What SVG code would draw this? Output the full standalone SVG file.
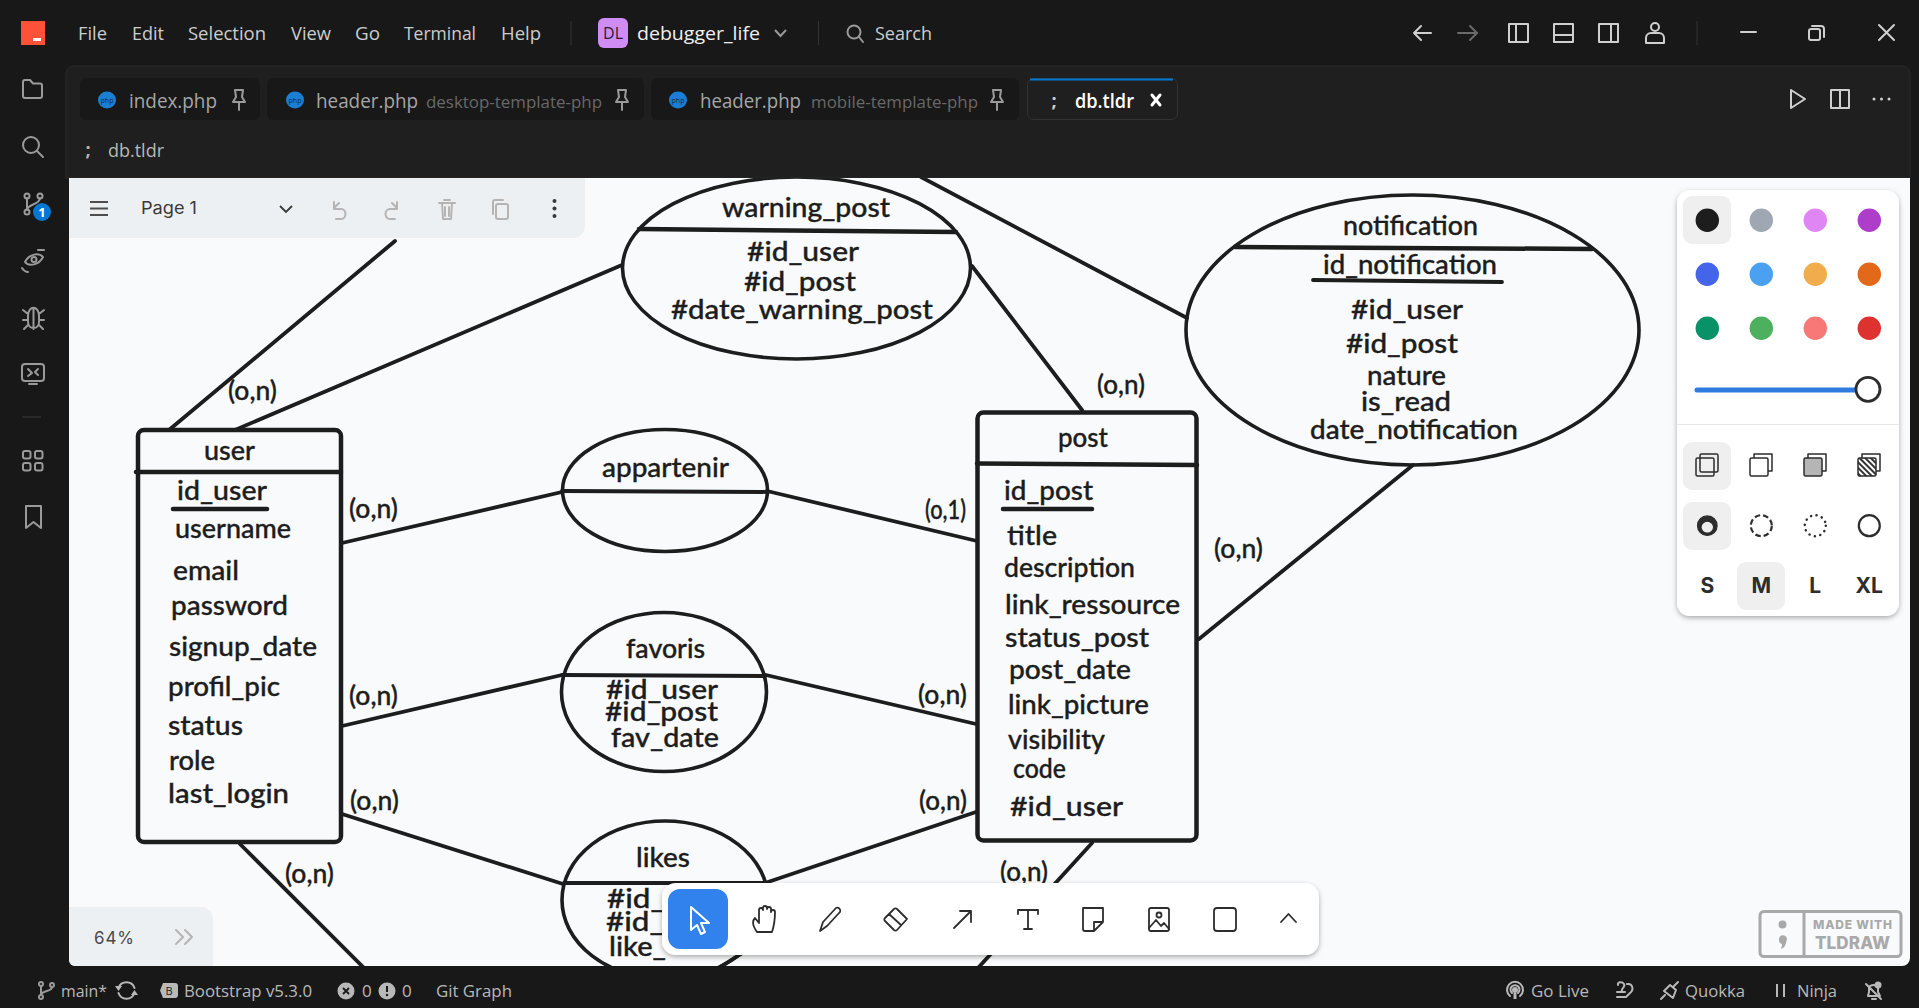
<svg xmlns="http://www.w3.org/2000/svg" xmlns:xlink="http://www.w3.org/1999/xlink" width="1919" height="1008" viewBox="0 0 1919 1008">
<style>
.h,.c{font-family:"Lato","Noto Sans",sans-serif;font-size:26px;font-weight:500;fill:#1d1d1d;stroke:#1d1d1d;stroke-width:.35;transform:translateY(2px)}
.sh{fill:none;stroke:#1d1d1d;stroke-width:4.5;stroke-linecap:round}
.ell{fill:none;stroke:#1d1d1d;stroke-width:3.6}
.cn{fill:none;stroke:#1d1d1d;stroke-width:3.8;stroke-linecap:round}
.ui{font-family:"Open Sans","Noto Sans",sans-serif;font-size:18px;fill:#cccccc}
.tab{font-family:"Open Sans","Noto Sans",sans-serif;font-size:20px;fill:#a6a6a6}
.sub{font-family:"Open Sans","Noto Sans",sans-serif;font-size:17px;fill:#686868}
.st{font-family:"Open Sans","Noto Sans",sans-serif;font-size:17px;fill:#b8b8b8}
.ic{fill:none;stroke:#9a9a9a;stroke-width:2;stroke-linecap:round;stroke-linejoin:round}
.top{fill:none;stroke:#cfcfcf;stroke-width:2;stroke-linejoin:round;stroke-linecap:round}
.tl{fill:none;stroke:#2d2d2d;stroke-width:1.8;stroke-linecap:round;stroke-linejoin:round}
.mg{fill:none;stroke:#b4b4b4;stroke-width:2;stroke-linecap:round;stroke-linejoin:round}
.sz{font-family:"Inter","Liberation Sans",sans-serif;font-size:21px;font-weight:700;fill:#2d2d2d;text-anchor:middle}
.sel{fill:#efefef}
</style>
<defs>
<clipPath id="cv"><path d="M69 178H1910V958a8 8 0 0 1-8 8H75a6 6 0 0 1-6-6Z"/></clipPath>
<filter id="shd" x="-10%" y="-10%" width="120%" height="125%"><feDropShadow dx="0" dy="2" stdDeviation="2.5" flood-color="#000" flood-opacity=".32"/></filter>
<pattern id="hatch" width="4" height="4" patternUnits="userSpaceOnUse" patternTransform="rotate(45)"><rect width="4" height="4" fill="#fff"/><rect width="4" height="2" fill="#333"/></pattern>
<g id="php"><ellipse cx="0" cy="0" rx="9" ry="8.5" fill="#1a7fd4"/><text x="0" y="2.500" font-family="Open Sans,sans-serif" font-size="7" fill="#0d2a46" text-anchor="middle">php</text></g>
<path id="pin" class="ic" d="M-4-9H4L3-2L6 3H-6L-3-2ZM0 3V11"/>
</defs>

<rect id="window" width="1919" height="1008" fill="#181818"/>
<path d="M66 74a8 8 0 0 1 8-8H1902a8 8 0 0 1 8 8V178H66Z" fill="#1f1f1f" stroke="#2a2a2a"/>
<path d="M69 178H1910V958a8 8 0 0 1-8 8H75a6 6 0 0 1-6-6Z" fill="#f9fafb"/>

<g id="titlebar">
<rect x="21" y="21" width="24" height="24" fill="#ff5138"/><rect x="33" y="38" width="8" height="3" fill="#fff"/>
<text class="ui" x="78" y="40" textLength="29" lengthAdjust="spacingAndGlyphs">File</text>
<text class="ui" x="132" y="40" textLength="32" lengthAdjust="spacingAndGlyphs">Edit</text>
<text class="ui" x="188" y="40" textLength="78" lengthAdjust="spacingAndGlyphs">Selection</text>
<text class="ui" x="291" y="40" textLength="40" lengthAdjust="spacingAndGlyphs">View</text>
<text class="ui" x="355" y="40" textLength="25" lengthAdjust="spacingAndGlyphs">Go</text>
<text class="ui" x="404" y="40" textLength="72" lengthAdjust="spacingAndGlyphs">Terminal</text>
<text class="ui" x="501" y="40" textLength="40" lengthAdjust="spacingAndGlyphs">Help</text>
<path d="M571 21V45M818.500 21V45" stroke="#333" fill="none"/>
<rect x="598" y="18" width="30" height="30" rx="6" fill="#d08cf5"/>
<text x="613" y="39" font-family="Open Sans,sans-serif" font-size="16" fill="#2a1a33" text-anchor="middle">DL</text>
<text class="ui" x="637" y="40" style="font-size:19px;fill:#f0f0f0" textLength="123" lengthAdjust="spacingAndGlyphs">debugger_life</text>
<path d="M775 30L780.500 36L786 30" fill="none" stroke="#9a9a9a" stroke-width="2"/>
<circle cx="854" cy="32" r="6.500" class="ic"/><path d="M859 37L863 42" class="ic"/>
<text class="ui" x="875" y="40" textLength="57" lengthAdjust="spacingAndGlyphs">Search</text>
<path class="top" d="M1431 33H1414M1421 26L1414 33L1421 40"/>
<path d="M1458 33H1476M1470 26L1477 33L1470 40" fill="none" stroke="#6a6a6a" stroke-width="2" stroke-linecap="round"/>
<rect class="top" x="1509" y="24" width="19" height="18"/><path class="top" d="M1516 24V42"/>
<rect class="top" x="1554" y="24" width="19" height="18"/><path class="top" d="M1554 35H1573"/>
<rect class="top" x="1599" y="24" width="19" height="18"/><path class="top" d="M1611 24V42"/>
<circle class="top" cx="1655" cy="27" r="4"/><path class="top" d="M1646 43V38a5 5 0 0 1 5-5H1659a5 5 0 0 1 5 5V43Z"/>
<path d="M1697 21V45" stroke="#333"/>
<path class="top" d="M1741 32H1756"/>
<rect class="top" x="1809" y="29" width="11" height="11" rx="2"/><path class="top" d="M1812 26H1821a3 3 0 0 1 3 3V37"/>
<path class="top" d="M1879 25L1894 40M1894 25L1879 40"/>
</g>

<g id="tabs">
<rect x="80" y="78" width="180" height="42" rx="6" fill="#181818"/>
<rect x="267" y="78" width="377" height="42" rx="6" fill="#181818"/>
<rect x="651" y="78" width="368" height="42" rx="6" fill="#181818"/>
<rect x="1027.500" y="78.500" width="150" height="41" rx="6" fill="#1f1f1f" stroke="#333"/>
<path d="M1030 79.500H1173" stroke="#0078d4" stroke-width="2"/>
<use xlink:href="#php" href="#php" x="107" y="100"/>
<text class="tab" x="129" y="108" textLength="88" lengthAdjust="spacingAndGlyphs">index.php</text>
<use href="#pin" xlink:href="#pin" x="239" y="99"/>
<use href="#php" xlink:href="#php" x="295" y="100"/>
<text class="tab" x="316" y="108" textLength="102" lengthAdjust="spacingAndGlyphs">header.php</text>
<text class="sub" x="426" y="108" textLength="176" lengthAdjust="spacingAndGlyphs">desktop-template-php</text>
<use href="#pin" xlink:href="#pin" x="622" y="99"/>
<use href="#php" xlink:href="#php" x="678" y="100"/>
<text class="tab" x="700" y="108" textLength="101" lengthAdjust="spacingAndGlyphs">header.php</text>
<text class="sub" x="811" y="108" textLength="167" lengthAdjust="spacingAndGlyphs">mobile-template-php</text>
<use href="#pin" xlink:href="#pin" x="997" y="99"/>
<text x="1054" y="107" font-family="Open Sans,sans-serif" font-size="18" font-weight="700" fill="#cfcfcf" text-anchor="middle">;</text>
<text class="tab" x="1075" y="108" style="fill:#fff;font-weight:600" textLength="59" lengthAdjust="spacingAndGlyphs">db.tldr</text>
<path d="M1152 95L1160 105M1160 95L1152 105" stroke="#fff" stroke-width="3" stroke-linecap="round"/>
<path class="top" d="M1791 90L1805 99L1791 108Z"/>
<rect class="top" x="1831" y="90" width="18" height="18"/><path class="top" d="M1840 90V108"/>
<circle cx="1874" cy="99" r="1.500" fill="#cfcfcf"/><circle cx="1881.500" cy="99" r="1.500" fill="#cfcfcf"/><circle cx="1889" cy="99" r="1.500" fill="#cfcfcf"/>
<text x="88" y="156" font-family="Open Sans,sans-serif" font-size="18" font-weight="700" fill="#b5b5b5" text-anchor="middle">;</text>
<text class="st" x="108" y="157" style="font-size:18px" textLength="56" lengthAdjust="spacingAndGlyphs">db.tldr</text>
</g>

<g id="activity">
<path class="ic" d="M23 82a2 2 0 0 1 2-2H30L33 83.500H40a2 2 0 0 1 2 2V96a2 2 0 0 1-2 2H25a2 2 0 0 1-2-2Z"/>
<circle class="ic" cx="31" cy="145" r="8"/><path class="ic" d="M37 151L43 157"/>
<circle cx="27" cy="196" r="2.500" class="ic"/><circle cx="40" cy="196" r="2.500" class="ic"/><circle cx="27" cy="212" r="2.500" class="ic"/>
<path class="ic" d="M27 198V210M40 198C40 205 27 204 27 210"/>
<circle cx="42" cy="212" r="9" fill="#0078d4"/><text x="42" y="217" font-family="Open Sans,sans-serif" font-size="13" font-weight="700" fill="#fff" text-anchor="middle">1</text>
<path class="ic" d="M25 262C29 254 39 252 43 257C39 265 29 267 25 262Z"/><circle class="ic" cx="34" cy="259.500" r="2.500"/><path class="ic" d="M22 268C24 271 26 272 28 272M44 250C42 250 40 250 38 250"/>
<path class="ic" d="M28 316C28 305 39 305 39 316V322C39 330 28 330 28 322ZM33.500 309V329M28 314L23 310M39 314L44 310M28 320H23M39 320H44M28 325L24 329M39 325L43 329"/>
<rect class="ic" x="22" y="364" width="22" height="17" rx="3"/><path class="ic" d="M29 384H37M28 369L32 373L28 376M38 369L35 372L38 375"/>
<path d="M22 417H41" stroke="#3a3a3a"/>
<rect class="ic" x="23" y="451" width="7.500" height="7.500" rx="2"/><rect class="ic" x="35" y="451" width="7.500" height="7.500" rx="2"/><rect class="ic" x="23" y="463" width="7.500" height="7.500" rx="2"/><rect class="ic" x="35" y="463" width="7.500" height="7.500" rx="2"/>
<path class="ic" d="M26 506H41V528L33.500 522L26 528Z"/>
</g>

<g clip-path="url(#cv)">
<g id="connectors">
<path class="cn" d="M169 430L395 241"/>
<path class="cn" d="M235 430L622 265"/>
<path class="cn" d="M342 543L562 492"/>
<path class="cn" d="M342 726L562 675"/>
<path class="cn" d="M342 814L563 884"/>
<path class="cn" d="M240 844L364 968"/>
<path class="cn" d="M972 266L1082 410"/>
<path class="cn" d="M921 177L1187 318"/>
<path class="cn" d="M767 491L977 541"/>
<path class="cn" d="M766 675L976 724"/>
<path class="cn" d="M765 883L976 812"/>
<path class="cn" d="M1199 639L1413 465"/>
<path class="cn" d="M1092 843L978 968"/>
<path class="cn" d="M720 967L760 942"/>
</g>

<g id="user">
<rect class="sh" x="138" y="430" width="203" height="412" rx="6"/>
<path class="sh" d="M136 472H341"/>
<text class="h" x="204" y="458" textLength="51" lengthAdjust="spacingAndGlyphs">user</text>
<text class="h" x="177" y="498" textLength="90" lengthAdjust="spacingAndGlyphs">id_user</text>
<path class="sh" d="M173 509H267"/>
<text class="h" x="175" y="536" textLength="116" lengthAdjust="spacingAndGlyphs">username</text>
<text class="h" x="173" y="578" textLength="66" lengthAdjust="spacingAndGlyphs">email</text>
<text class="h" x="171" y="613" textLength="117" lengthAdjust="spacingAndGlyphs">password</text>
<text class="h" x="169" y="654" textLength="148" lengthAdjust="spacingAndGlyphs">signup_date</text>
<text class="h" x="168" y="694" textLength="112" lengthAdjust="spacingAndGlyphs">profil_pic</text>
<text class="h" x="168" y="733" textLength="75" lengthAdjust="spacingAndGlyphs">status</text>
<text class="h" x="169" y="768" textLength="46" lengthAdjust="spacingAndGlyphs">role</text>
<text class="h" x="168" y="801" textLength="121" lengthAdjust="spacingAndGlyphs">last_login</text>
</g>

<g id="post">
<rect class="sh" x="977.500" y="412.500" width="219" height="428" rx="6"/>
<path class="sh" d="M977 463.500L1197 465"/>
<text class="h" x="1058" y="445" textLength="50" lengthAdjust="spacingAndGlyphs">post</text>
<text class="h" x="1004" y="498" textLength="89" lengthAdjust="spacingAndGlyphs">id_post</text>
<path class="sh" d="M1003 509H1092"/>
<text class="h" x="1007" y="543" textLength="50" lengthAdjust="spacingAndGlyphs">title</text>
<text class="h" x="1004" y="575" textLength="131" lengthAdjust="spacingAndGlyphs">description</text>
<text class="h" x="1005" y="612" textLength="175" lengthAdjust="spacingAndGlyphs">link_ressource</text>
<text class="h" x="1005" y="645" textLength="144" lengthAdjust="spacingAndGlyphs">status_post</text>
<text class="h" x="1009" y="677" textLength="122" lengthAdjust="spacingAndGlyphs">post_date</text>
<text class="h" x="1008" y="712" textLength="141" lengthAdjust="spacingAndGlyphs">link_picture</text>
<text class="h" x="1008" y="747" textLength="97" lengthAdjust="spacingAndGlyphs">visibility</text>
<text class="h" x="1013" y="776" textLength="53" lengthAdjust="spacingAndGlyphs">code</text>
<text class="h" x="1010" y="814" textLength="113" lengthAdjust="spacingAndGlyphs">#id_user</text>
</g>

<g id="warning_post">
<ellipse class="ell" cx="796.500" cy="268" rx="174" ry="91"/>
<path class="sh" d="M639 229L956 232"/>
<text class="h" x="722" y="215" textLength="168" lengthAdjust="spacingAndGlyphs">warning_post</text>
<text class="h" x="747" y="259" textLength="112" lengthAdjust="spacingAndGlyphs">#id_user</text>
<text class="h" x="744" y="289" textLength="112" lengthAdjust="spacingAndGlyphs">#id_post</text>
<text class="h" x="671" y="317" textLength="262" lengthAdjust="spacingAndGlyphs">#date_warning_post</text>
</g>

<g id="appartenir">
<ellipse class="ell" cx="665" cy="490.500" rx="102.500" ry="61"/>
<path class="cn" d="M562 491L768 492"/>
<text class="h" x="602" y="475" textLength="127" lengthAdjust="spacingAndGlyphs">appartenir</text>
</g>

<g id="favoris">
<ellipse class="ell" cx="664" cy="692" rx="102.500" ry="79.500"/>
<path class="cn" d="M562 675L765 676"/>
<text class="h" x="626" y="656" textLength="79" lengthAdjust="spacingAndGlyphs">favoris</text>
<text class="h" x="606" y="697" textLength="112" lengthAdjust="spacingAndGlyphs">#id_user</text>
<text class="h" x="605" y="719" textLength="113" lengthAdjust="spacingAndGlyphs">#id_post</text>
<text class="h" x="611" y="745" textLength="108" lengthAdjust="spacingAndGlyphs">fav_date</text>
</g>

<g id="likes">
<ellipse class="ell" cx="665" cy="900" rx="103" ry="79"/>
<path class="cn" d="M564 883H765"/>
<text class="h" x="636" y="865" textLength="54" lengthAdjust="spacingAndGlyphs">likes</text>
<text class="h" x="607" y="906" textLength="58" lengthAdjust="spacingAndGlyphs">#id_</text>
<text class="h" x="606" y="929" textLength="58" lengthAdjust="spacingAndGlyphs">#id_</text>
<text class="h" x="609" y="954" textLength="57" lengthAdjust="spacingAndGlyphs">like_</text>
</g>

<g id="notification">
<ellipse class="ell" cx="1412.500" cy="330" rx="226.500" ry="135"/>
<path class="sh" d="M1235 247L1592 249"/>
<text class="h" x="1343" y="233" textLength="135" lengthAdjust="spacingAndGlyphs">notification</text>
<text class="h" x="1323" y="272" textLength="174" lengthAdjust="spacingAndGlyphs">id_notification</text>
<path class="cn" d="M1313 280L1502 282"/>
<text class="h" x="1351" y="317" textLength="112" lengthAdjust="spacingAndGlyphs">#id_user</text>
<text class="h" x="1346" y="351" textLength="112" lengthAdjust="spacingAndGlyphs">#id_post</text>
<text class="h" x="1367" y="383" textLength="79" lengthAdjust="spacingAndGlyphs">nature</text>
<text class="h" x="1361" y="409" textLength="90" lengthAdjust="spacingAndGlyphs">is_read</text>
<text class="h" x="1310" y="437" textLength="208" lengthAdjust="spacingAndGlyphs">date_notification</text>
</g>

<g id="cardinalities">
<text class="c" x="228" y="398" textLength="49" lengthAdjust="spacingAndGlyphs">(o,n)</text>
<text class="c" x="349" y="516" textLength="49" lengthAdjust="spacingAndGlyphs">(o,n)</text>
<text class="c" x="349" y="703" textLength="49" lengthAdjust="spacingAndGlyphs">(o,n)</text>
<text class="c" x="350" y="808" textLength="49" lengthAdjust="spacingAndGlyphs">(o,n)</text>
<text class="c" x="285" y="881" textLength="49" lengthAdjust="spacingAndGlyphs">(o,n)</text>
<text class="c" x="1097" y="392" textLength="48" lengthAdjust="spacingAndGlyphs">(o,n)</text>
<text class="c" x="925" y="517" textLength="41" lengthAdjust="spacingAndGlyphs">(o,1)</text>
<text class="c" x="918" y="702" textLength="49" lengthAdjust="spacingAndGlyphs">(o,n)</text>
<text class="c" x="919" y="808" textLength="48" lengthAdjust="spacingAndGlyphs">(o,n)</text>
<text class="c" x="1000" y="879" textLength="48" lengthAdjust="spacingAndGlyphs">(o,n)</text>
<text class="c" x="1214" y="556" textLength="49" lengthAdjust="spacingAndGlyphs">(o,n)</text>
</g>

<g id="page-menu">
<path d="M69 178H585V226a12 12 0 0 1-12 12H69Z" fill="#edf0f2"/>
<path d="M90 202H108M90 208.500H108M90 215H108" fill="none" stroke="#4d4d4d" stroke-width="2"/>
<text x="141" y="214" font-family="Inter,Liberation Sans,sans-serif" font-size="17" fill="#3a3a3a" textLength="56" lengthAdjust="spacingAndGlyphs">Page 1</text>
<path d="M280 206L286 212L292 206" fill="none" stroke="#3a3a3a" stroke-width="1.800"/>
<path class="mg" d="M334 202V209H341C347 209 347 219 341 219H336"/><path class="mg" d="M334 208L339 203"/>
<path class="mg" d="M397 202V209H390C384 209 384 219 390 219H395"/><path class="mg" d="M397 208L392 203"/>
<path class="mg" d="M439 203H455M442 203L443 219H451L452 203M444 200H450M445 207V216M449 207V216"/>
<rect class="mg" x="496" y="204" width="12" height="15" rx="2"/><path class="mg" d="M493 214V202a2 2 0 0 1 2-2H503"/>
<circle cx="554.500" cy="201" r="2" fill="#3a3a3a"/><circle cx="554.500" cy="208.500" r="2" fill="#3a3a3a"/><circle cx="554.500" cy="216" r="2" fill="#3a3a3a"/>
</g>

<g id="zoom-pill">
<path d="M69 907H201a12 12 0 0 1 12 12V966H75a6 6 0 0 1-6-6Z" fill="#edf0f2"/>
<text x="94" y="944" font-family="Inter,Liberation Sans,sans-serif" font-size="17" fill="#4a4a4a" textLength="40" lengthAdjust="spacing">64%</text>
<path class="mg" d="M176 930L183 937L176 944M185 930L192 937L185 944"/>
</g>

<g id="made-with">
<rect x="1760" y="911.500" width="141" height="45" rx="4" fill="none" stroke="#a9a9a9" stroke-width="3"/>
<path d="M1804 911V957" stroke="#a9a9a9" stroke-width="3"/>
<circle cx="1782.500" cy="924.500" r="4" fill="#a9a9a9"/>
<path d="M1779 940a4 4 0 1 1 7.500 1C1786 945 1784 948 1781 949C1782 946 1782 944 1782 944a4 4 0 0 1-3-4Z" fill="#a9a9a9"/>
<text x="1813" y="929" font-family="Inter,Liberation Sans,sans-serif" font-size="12" font-weight="800" fill="#a9a9a9" textLength="79" lengthAdjust="spacing">MADE WITH</text>
<text x="1815" y="949" font-family="Inter,Liberation Sans,sans-serif" font-size="17" font-weight="800" fill="#a9a9a9" textLength="75" lengthAdjust="spacing">TLDRAW</text>
</g>

<g id="toolbar">
<rect x="662" y="883" width="657" height="72" rx="14" fill="#fff" filter="url(#shd)"/>
<rect x="668" y="889" width="60" height="60" rx="12" fill="#3182ed"/>
<path d="M691 907V930L697 925L701 934L705 932L701 923H709Z" fill="#3182ed" stroke="#fff" stroke-width="2" stroke-linejoin="round"/>
<path class="tl" d="M757 932C752 925 752 921 755 918L759 923V910a2 2 0 0 1 4 0V908a2 2 0 0 1 4 0V909a2 2 0 0 1 4 0V912a2 2 0 0 1 4 0C775 920 774 926 772 932Z"/>
<path class="tl" d="M820 931L823 922L836 908a3 3 0 0 1 4 4L827 926Z"/>
<path class="tl" d="M897 909L907 919L897 930a2 2 0 0 1-3 0L885 921a2 2 0 0 1 0-3L894 909a2 2 0 0 1 3 0ZM889 914L901 925"/>
<path class="tl" d="M954 928L971 911M960 911H971V922"/>
<path class="tl" d="M1018 910V914M1018 910H1038V914M1028 910V929M1024 929H1032"/>
<path class="tl" d="M1083 908H1103V922L1094 931H1085a2 2 0 0 1-2-2ZM1094 931V922H1103"/>
<rect class="tl" x="1149" y="908" width="20" height="23" rx="2"/><circle class="tl" cx="1159" cy="915" r="2.500"/><path class="tl" d="M1149 928L1156 920L1161 926L1164 923L1169 929"/>
<rect class="tl" x="1214" y="908" width="22" height="23" rx="3"/>
<path class="tl" d="M1281 922L1288.500 914L1296 922"/>
</g>

<g id="style-panel">
<rect x="1677" y="190" width="222" height="426" rx="13" fill="#fff" filter="url(#shd)"/>
<rect class="sel" x="1683" y="196" width="48" height="48" rx="9"/>
<circle cx="1707.300" cy="220.300" r="11.700" fill="#1d1d1d"/><circle cx="1761.300" cy="220.300" r="11.700" fill="#9fa8b2"/><circle cx="1815.300" cy="220.300" r="11.700" fill="#e085f4"/><circle cx="1869.300" cy="220.300" r="11.700" fill="#ae3ec9"/>
<circle cx="1707.300" cy="274.300" r="11.700" fill="#4465e9"/><circle cx="1761.300" cy="274.300" r="11.700" fill="#4ba1f1"/><circle cx="1815.300" cy="274.300" r="11.700" fill="#f1ac4b"/><circle cx="1869.300" cy="274.300" r="11.700" fill="#e16919"/>
<circle cx="1707.300" cy="328.300" r="11.700" fill="#099268"/><circle cx="1761.300" cy="328.300" r="11.700" fill="#4cb05e"/><circle cx="1815.300" cy="328.300" r="11.700" fill="#f87777"/><circle cx="1869.300" cy="328.300" r="11.700" fill="#e03131"/>
<path d="M1697 390H1856" stroke="#2f7ce0" stroke-width="5" stroke-linecap="round"/>
<circle cx="1868" cy="389.300" r="12" fill="#fff" stroke="#2d2d2d" stroke-width="2.800"/>
<path d="M1677 424.500H1899" stroke="#e8e8e8"/>
<rect class="sel" x="1683" y="442" width="48" height="48" rx="9"/>
<rect class="sel" x="1683" y="502" width="48" height="48" rx="9"/>
<g fill="none" stroke="#2d2d2d" stroke-width="1.500" stroke-linejoin="round">
<rect x="1700" y="454" width="18" height="18" rx="1.500"/><rect x="1696" y="458" width="18" height="18" rx="1.500"/>
<path d="M1754 458V454H1772V471H1768"/><rect x="1750" y="458" width="18" height="18" rx="1.500" fill="#fff"/>
<path d="M1808 458V454H1826V471H1822"/><rect x="1804" y="458" width="18" height="18" rx="1.500" fill="#b5b5b5"/>
<path d="M1862 458V454H1880V471H1876"/><rect x="1858" y="458" width="18" height="18" rx="1.500" fill="url(#hatch)"/>
</g>
<path d="M1697.500 525.700a9.800 9.800 0 0 0 19.600 0a9.800 9.800 0 0 0-19.600 0Zm3.500 1.500a6.300 6 0 0 0 12.600 0a6.300 6 0 0 0-12.600 0Z" fill="#2d2d2d" fill-rule="evenodd" stroke="#2d2d2d" stroke-width="1.200"/>
<circle cx="1761.300" cy="525.700" r="10.500" fill="none" stroke="#2d2d2d" stroke-width="2.200" stroke-dasharray="5.500 3"/>
<circle cx="1815.300" cy="525.700" r="10.500" fill="none" stroke="#2d2d2d" stroke-width="2.500" stroke-dasharray="0.100 5.500" stroke-linecap="round"/>
<circle cx="1869.300" cy="525.700" r="10.500" fill="none" stroke="#2d2d2d" stroke-width="2.200"/>
<rect class="sel" x="1737" y="562" width="48" height="48" rx="9"/>
<text class="sz" x="1707.300" y="593">S</text><text class="sz" x="1761.300" y="593">M</text><text class="sz" x="1815.300" y="593">L</text><text class="sz" x="1869.300" y="593">XL</text>
</g>
</g>

<g id="statusbar">
<circle cx="41" cy="984" r="2" class="ic"/><circle cx="41" cy="997" r="2" class="ic"/><circle cx="52" cy="985" r="2" class="ic"/>
<path class="ic" d="M41 986V995M52 987C52 992 42 990 41 995"/>
<text class="st" x="61" y="997" textLength="46" lengthAdjust="spacingAndGlyphs">main*</text>
<path class="ic" d="M118.500 988a8.500 8.500 0 0 1 16 0M134.500 993a8.500 8.500 0 0 1-16 0" style="stroke:#b8b8b8"/>
<path d="M115 986H122L118.500 991ZM131 995H138L134.500 990Z" fill="#b8b8b8"/>
<path d="M163 983H175a3 3 0 0 1 3 3V995a3 3 0 0 1-3 3H163L160 990.500Z" fill="#b8b8b8"/>
<text x="169" y="995" font-family="Open Sans,sans-serif" font-size="11" fill="#181818" text-anchor="middle">B</text>
<text class="st" x="184" y="997" textLength="128" lengthAdjust="spacingAndGlyphs">Bootstrap v5.3.0</text>
<circle cx="346" cy="991" r="8.500" fill="#b8b8b8"/><path d="M343 988L349 994M349 988L343 994" stroke="#181818" stroke-width="1.800"/>
<text class="st" x="362" y="997">0</text>
<circle cx="387" cy="991" r="8.500" fill="#b8b8b8"/><path d="M387 986V992" stroke="#181818" stroke-width="2"/><circle cx="387" cy="995" r="1.200" fill="#181818"/>
<text class="st" x="402" y="997">0</text>
<text class="st" x="436" y="997" textLength="76" lengthAdjust="spacingAndGlyphs">Git Graph</text>
<circle cx="1515" cy="990" r="3" fill="#b8b8b8"/><path class="ic" d="M1510 996a8 8 0 1 1 10 0M1512 993a4.500 4.500 0 1 1 6 0" style="stroke:#b8b8b8"/><path d="M1515 993V999" stroke="#b8b8b8" stroke-width="3"/>
<text class="st" x="1531" y="997" textLength="58" lengthAdjust="spacingAndGlyphs">Go Live</text>
<path class="ic" d="M1618 985C1617 982 1622 981 1624 984C1626 987 1620 989 1622 992M1627 984C1633 983 1634 990 1630 993L1626 997H1617M1617 992H1625" style="stroke:#b8b8b8"/>
<path class="ic" d="M1661 999L1665 995M1673 987L1678 982M1664 991L1673 998L1676 990L1670 985Z" style="stroke:#b8b8b8"/>
<text class="st" x="1685" y="997" textLength="60" lengthAdjust="spacingAndGlyphs">Quokka</text>
<path d="M1777 984V997M1784 984V997" stroke="#b8b8b8" stroke-width="2"/>
<text class="st" x="1797" y="997" textLength="40" lengthAdjust="spacingAndGlyphs">Ninja</text>
<path class="ic" d="M1866 984L1881 999M1868 996H1880L1878 992V988C1878 984 1870 984 1869 988V992ZM1872 999H1876" style="stroke:#b8b8b8"/><circle cx="1878" cy="985" r="3.500" fill="#b8b8b8"/>
</g>
</svg>
